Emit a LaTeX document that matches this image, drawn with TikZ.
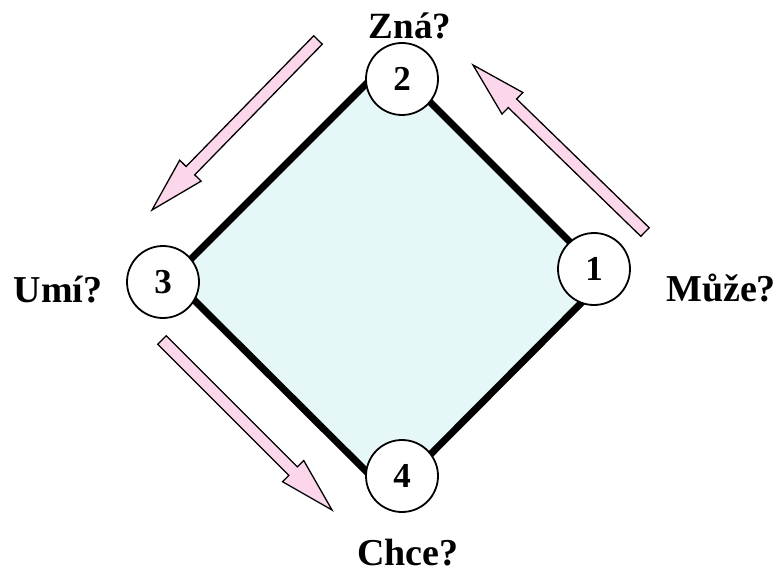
\documentclass[tikz,border=0pt]{standalone}
\usepackage{fontspec}
\setmainfont{Liberation Serif}
\usetikzlibrary{calc}
\definecolor{pinkfill}{RGB}{252,214,234}
\definecolor{cyanfill}{RGB}{230,247,247}
\tikzset{
  circ/.style={circle, draw=black, line width=1.8pt, fill=white, minimum size=72pt, inner sep=0pt, font=\fontsize{35}{35}\selectfont\bfseries},
  lbl/.style={anchor=base, inner sep=0pt, font=\fontsize{38}{38}\selectfont\bfseries},
  arr/.style={draw=black, line width=1.3pt, fill=pinkfill, line join=miter},
  edge/.style={draw=black, line width=7pt, line join=miter}
}
\newcommand\pinkarr[3]{% name, tail, tip
  \coordinate (#1h) at ($(#3)!55pt!(#2)$);
  \path[arr] ($(#2)!6pt!90:(#3)$) -- ($(#1h)!6pt!90:(#3)$) -- ($(#1h)!15pt!90:(#3)$) -- (#3)
    -- ($(#1h)!15pt!-90:(#3)$) -- ($(#1h)!6pt!-90:(#3)$) -- ($(#2)!6pt!-90:(#3)$) -- cycle;
}
\begin{document}
\begin{tikzpicture}[x=1pt,y=-1pt]
\useasboundingbox (0,0) rectangle (779,580);
% diamond corners
\coordinate (dt) at (389,61);
\coordinate (dr) at (606,278);
\coordinate (db) at (390,495);
\coordinate (dl) at (172,278);
\path[fill=cyanfill] (dt) -- (dr) -- (db) -- (dl) -- cycle;
\draw[edge] (dt) -- (dr) -- (db) -- (dl) -- cycle;
% circles
\node[circ] (n2) at (402,79) {2};
\node[circ] (n1) at (594,269) {1};
\node[circ] (n3) at (163,282) {3};
\node[circ] (n4) at (402,476) {4};
% labels
\node[lbl, font=\fontsize{37}{37}\selectfont\bfseries] (l2) at (410,39) {Zná?};
\node[lbl] (l1) at (721,301) {Může?};
\node[lbl] (l3) at (58,302) {Umí?};
\node[lbl] (l4) at (408,565) {Chce?};
% arrows
\coordinate (a1t) at (318,40);
\coordinate (a1h) at (152,210);
\coordinate (a2t) at (645,232);
\coordinate (a2h) at (473,65);
\coordinate (a3t) at (162,340);
\coordinate (a3h) at (332,510);
\pinkarr{pa}{a1t}{a1h}
\pinkarr{pb}{a2t}{a2h}
\pinkarr{pc}{a3t}{a3h}
\end{tikzpicture}
\end{document}
